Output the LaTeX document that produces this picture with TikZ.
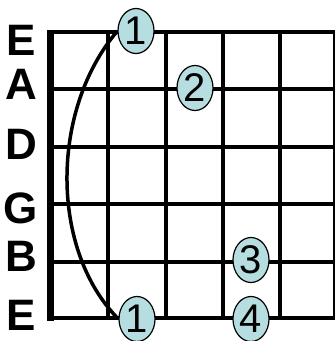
\documentclass[tikz,border=0pt]{standalone}
\usepackage{fontspec}
\setmainfont{Liberation Sans}
\usetikzlibrary{shapes.geometric}
\definecolor{fingerblue}{RGB}{182,222,224}
\begin{document}
\begin{tikzpicture}[x=1pt,y=-1pt,
  stringline/.style={line width=4pt},
  fretline/.style={line width=3.5pt},
  finger/.style={ellipse,draw=black,line width=1.2pt,fill=fingerblue,minimum width=36pt,minimum height=45pt,inner sep=0pt,font=\fontsize{40}{40}\selectfont},
  strname/.style={font=\bfseries\fontsize{44}{44}\selectfont,inner sep=0pt}]
\useasboundingbox (0,0) rectangle (336,341);
\fill[white] (0,0) rectangle (336,341);
% frets
\foreach \x in {108,166,223,280} \draw[fretline] (\x,32) -- (\x,318);
\draw[line width=2pt] (334,32) -- (334,318);
% strings
\foreach \y in {32,89,147,204,262,318} \draw[stringline] (50,\y) -- (335,\y);
% nut
\fill (47,30) rectangle (54,321);
% string names
\node[strname] (sE1) at (21,40) {E};
\node[strname] (sA) at (21,84) {A};
\node[strname] (sD) at (21,144) {D};
\node[strname] (sG) at (21,208) {G};
\node[strname] (sB) at (21,256) {B};
\node[strname] (sE2) at (21,315) {E};
% fingers
\node[finger] (f1a) at (136,31) {1};
\node[finger] (f2) at (195,88) {2};
\node[finger] (f3) at (251,260) {3};
\node[finger] (f4) at (251,319) {4};
\node[finger] (f1b) at (137,319) {1};
% barre
\draw[line width=3.5pt] (f1a.west) .. controls (50,110) and (50,250) .. (f1b.west);
\end{tikzpicture}
\end{document}
